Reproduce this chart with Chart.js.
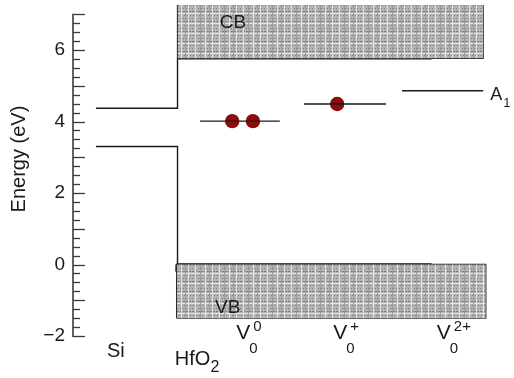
<!DOCTYPE html>
<html>
<head>
<meta charset="utf-8">
<script src="https://cdn.jsdelivr.net/npm/chart.js@4.4.0/dist/chart.umd.min.js"></script>
<style>
  body { margin: 0; background: #fff; }
  #wrap { width: 514px; height: 378px; }
</style>
</head>
<body>
<div id="wrap"><canvas id="band-chart" width="514" height="378"></canvas></div>
<script>
// Energies in eV; x is position along the stack in arbitrary units (0..10)
const axisMin = -2;
const axisMax = 7;
const plotTop = 7.26;                  // shading of the CB reaches a bit above the axis

const siEdges = [4.37, 3.30];          // Si conduction / valence band edge
const siSpan = [0.52, 2.37];           // Si region, ends at the Si/HfO2 interface
const cbBand = [5.77, 7.26];           // HfO2 conduction band: bottom, top
const vbBand = [-1.50, 0];             // HfO2 valence band: bottom, top
const cbSpan = [2.37, 9.30];
const vbSpan = [2.35, 9.36];
const edgeLineEnd = 8.13;              // heavy band-edge line stops here

const levelEnergy = [4.01, 4.49, 4.86];   // V0^0, V0^+, A1
const levelStart = [2.88, 5.24, 7.46];
const levelEnd = [4.69, 7.10, 9.30];
const electronX = [3.61, 4.08, 5.99];
const electronE = [4.01, 4.01, 4.49];

// text labels: [text, sup, sub, x, y]
const vacancyLabels = [
    ['V', '0', '0', 3.70, -2.08],
    ['V', '+', '0', 5.90, -2.08],
    ['V', '2+', '0', 8.25, -2.08]
];
const regionLabels = [
    ['Si', '', 0.77, -2.59],
    ['HfO', '2', 2.31, -2.81]
];
const bandLabels = [
    ['CB', 3.33, 6.61],
    ['VB', 3.22, -1.36]
];
const levelLabel = ['A', '1', 9.46, 4.60];
const yTitle = ['Energy (eV)', -1.22, 2.95];

const FONT = '"Liberation Sans", Arial, sans-serif';
const INK = '#1a1a1a';

// grey speckled texture for the bands
function makeBandPattern() {
    const c = document.createElement('canvas');
    c.width = 24; c.height = 10;
    const p = c.getContext('2d');
    p.fillStyle = '#b4b4b4';
    p.fillRect(0, 0, 24, 10);
    p.fillStyle = '#7e7e7e';
    for (let i = 0; i < 24; i += 3) {
        p.fillRect(i, 1, 2, 1);
        p.fillRect(i + 1, 5, 1, 1);
        p.fillRect(i, 8, 1, 1);
    }
    p.fillStyle = '#e4e4e4';
    p.fillRect(3, 0, 1, 10);
    p.fillRect(13, 0, 1, 10);
    p.fillRect(20, 0, 1, 10);
    p.fillRect(0, 3, 24, 1);
    p.fillStyle = '#9c9c9c';
    p.fillRect(8, 0, 1, 10);
    p.fillRect(17, 0, 1, 10);
    return p.createPattern(c, 'repeat');
}

function seg(x0, x1, e) {
    return [{x: x0, y: e}, {x: x1, y: e}];
}

function line(data, width) {
    return {
        data: data,
        borderColor: INK,
        borderWidth: width || 1.4,
        pointRadius: 0,
        fill: false
    };
}

function rectPath(span, band) {
    return [
        {x: span[0], y: band[0]}, {x: span[1], y: band[0]},
        {x: span[1], y: band[1]}, {x: span[0], y: band[1]},
        {x: span[0], y: band[0]}
    ];
}

const pattern = makeBandPattern();

const datasets = [
    // shaded bands
    {data: seg(cbSpan[0], cbSpan[1], cbBand[1]), borderWidth: 0, pointRadius: 0,
        backgroundColor: pattern, fill: {value: cbBand[0]}},
    {data: seg(vbSpan[0], vbSpan[1], vbBand[0]), borderWidth: 0, pointRadius: 0,
        backgroundColor: pattern, fill: {value: vbBand[1]}},
    line(rectPath(cbSpan, cbBand), 1.3),
    line(rectPath(vbSpan, vbBand), 1.3),
    // heavy band edges
    line(seg(cbSpan[0], edgeLineEnd, cbBand[0]), 2.4),
    line(seg(vbSpan[0], edgeLineEnd, vbBand[1]), 2.4),
    // Si band edges joined to the interface
    line([{x: siSpan[0], y: siEdges[0]}, {x: siSpan[1], y: siEdges[0]}, {x: siSpan[1], y: cbBand[0]}]),
    line([{x: siSpan[0], y: siEdges[1]}, {x: siSpan[1], y: siEdges[1]}, {x: siSpan[1], y: vbBand[1]}]),
    line([{x: vbSpan[0], y: vbBand[1]}, {x: vbSpan[0], y: vbBand[1] - 0.2}], 2.6)
];

levelEnergy.forEach((e, i) => datasets.push(line(seg(levelStart[i], levelEnd[i], e))));

datasets.push({
    data: electronX.map((x, i) => ({x: x, y: electronE[i]})),
    showLine: false,
    pointRadius: 7.2,
    pointBackgroundColor: '#8c0b0b',
    pointBorderColor: '#8c0b0b',
    pointBorderWidth: 0
});

function drawText(ctx, text, px, py, size) {
    ctx.font = size + 'px ' + FONT;
    ctx.fillText(text, px, py);
    return ctx.measureText(text).width;
}

const labelPlugin = {
    id: 'bandLabels',
    afterDraw(chart) {
        const ctx = chart.ctx;
        const x = chart.scales.x;
        const y = chart.scales.y;
        const left = chart.chartArea.left;
        ctx.save();

        // axis line and inward tick marks
        ctx.strokeStyle = '#3a3a3a';
        ctx.lineWidth = 1.6;
        ctx.beginPath();
        ctx.moveTo(left, y.getPixelForValue(axisMax) - 0.5);
        ctx.lineTo(left, y.getPixelForValue(axisMin) + 1);
        ctx.stroke();
        ctx.lineWidth = 1.3;
        y.ticks.forEach(t => {
            if (t.value > axisMax + 1e-6 || t.value < axisMin - 1e-6) return;
            if (Math.abs(t.value * 4 - Math.round(t.value * 4)) > 1e-6) return;
            const whole = Math.abs(t.value - Math.round(t.value)) < 1e-6;
            const py = Math.round(y.getPixelForValue(t.value)) + 0.5;
            ctx.beginPath();
            ctx.moveTo(left, py);
            ctx.lineTo(left + (whole ? 12 : 7), py);
            ctx.stroke();
        });

        ctx.fillStyle = INK;
        ctx.textBaseline = 'alphabetic';
        ctx.textAlign = 'left';

        vacancyLabels.forEach(([t, sup, sub, vx, vy]) => {
            const px = x.getPixelForValue(vx);
            const py = y.getPixelForValue(vy);
            const w = drawText(ctx, t, px, py, 21);
            drawText(ctx, sup, px + w + 3, py - 8, 15);
            drawText(ctx, sub, px + w - 1, py + 14, 15);
        });

        regionLabels.forEach(([t, sub, rx, ry]) => {
            const px = x.getPixelForValue(rx);
            const py = y.getPixelForValue(ry);
            const w = drawText(ctx, t, px, py, 20);
            if (sub) drawText(ctx, sub, px + w, py + 7, 16);
        });

        bandLabels.forEach(([t, bx, by]) => {
            drawText(ctx, t, x.getPixelForValue(bx), y.getPixelForValue(by), 19);
        });

        const ax = x.getPixelForValue(levelLabel[2]);
        const ay = y.getPixelForValue(levelLabel[3]);
        const aw = drawText(ctx, levelLabel[0], ax, ay, 18);
        drawText(ctx, levelLabel[1], ax + aw + 1, ay + 7, 13);

        // vertical axis title
        ctx.translate(x.getPixelForValue(yTitle[1]), y.getPixelForValue(yTitle[2]));
        ctx.rotate(-Math.PI / 2);
        ctx.textAlign = 'center';
        ctx.textBaseline = 'middle';
        drawText(ctx, yTitle[0], 0, 0, 20);
        ctx.restore();
    }
};

const bandChart = new Chart(document.getElementById('band-chart').getContext('2d'), {
    type: 'line',
    data: {datasets: datasets},
    options: {
        responsive: false,
        animation: false,
        devicePixelRatio: 1,
        layout: {autoPadding: false, padding: {top: 5, bottom: 42, left: 0, right: 0}},
        plugins: {
            legend: {display: false},
            tooltip: {enabled: false}
        },
        scales: {
            x: {
                type: 'linear',
                min: 0,
                max: 10,
                display: false
            },
            y: {
                type: 'linear',
                min: axisMin,
                max: plotTop,
                grid: {display: false, drawTicks: false},
                border: {display: false},
                afterFit(scale) {
                    scale.width = 73;
                    scale.paddingTop = 0;
                    scale.paddingBottom = 0;
                },
                ticks: {
                    stepSize: 0.25,
                    autoSkip: false,
                    padding: 8,
                    color: INK,
                    font: {family: FONT, size: 19},
                    callback(v) {
                        const r = Math.round(v);
                        if (Math.abs(v - r) > 1e-6 || r % 2 !== 0) return '';
                        return r < 0 ? '\u2212' + (-r) : '' + r;
                    }
                }
            }
        }
    },
    plugins: [labelPlugin]
});
</script>
</body>
</html>
